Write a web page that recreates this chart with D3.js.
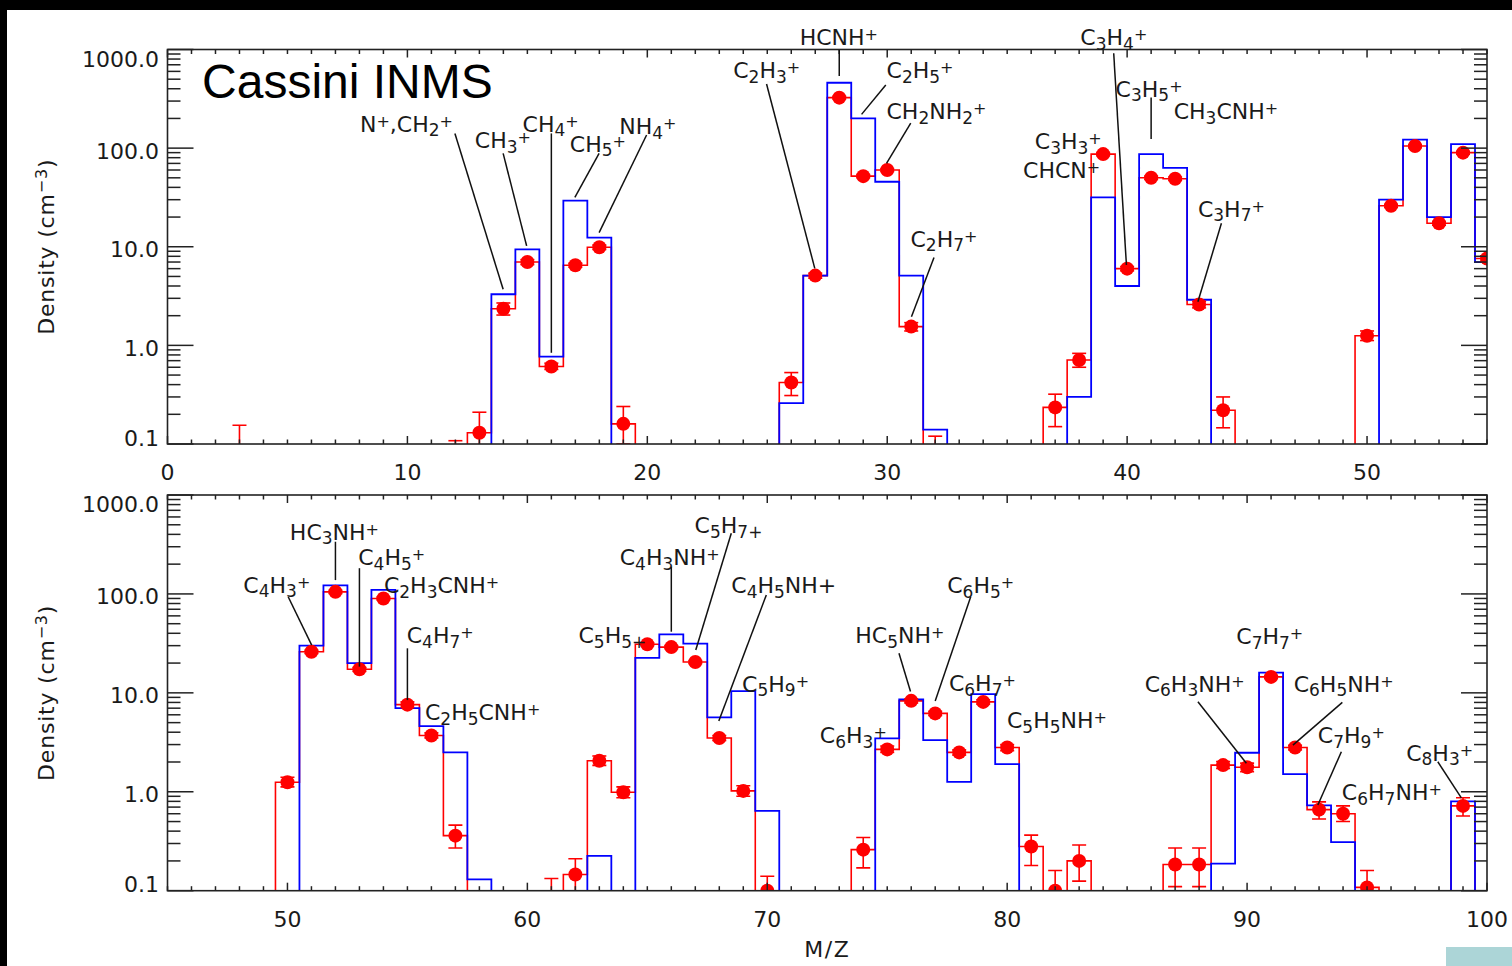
<!DOCTYPE html>
<html>
<head>
<meta charset="utf-8">
<script src="https://cdn.jsdelivr.net/npm/d3@7"></script>
<style>
  body { margin: 0; background: #fff; }
  svg { display: block; }
  .lbl { font-family: "DejaVu Sans", sans-serif; font-size: 22px; fill: #1a1a1a; }
  .frame { fill: none; stroke: #222; stroke-width: 1.6; }
  .tick { stroke: #222; stroke-width: 1.5; }
  .leader { stroke: #111; stroke-width: 1.5; }
</style>
</head>
<body>
<svg id="chart" width="1512" height="966"></svg>
<script>
// measured ion densities (red), one value per M/Z bin
const measMass = [3, 12, 13, 14, 15, 16, 17, 18, 19,
  26, 27, 28, 29, 30, 31, 32,
  37, 38, 39, 40, 41, 42, 43, 44,
  50, 51, 52, 53, 54, 55, 56, 57,
  61, 62, 63, 64, 65, 66, 67, 68, 69, 70,
  74, 75, 76, 77, 78, 79, 80, 81, 82, 83,
  87, 88, 89, 90, 91, 92, 93, 94, 95,
  99];
const measDensity = [0.03, 0.05, 0.13, 2.35, 7.0, 0.61, 6.5, 9.9, 0.16,
  0.42, 5.1, 325, 52, 60, 1.55, 0.06,
  0.235, 0.71, 87, 6.0, 50, 49, 2.6, 0.22,
  1.25, 26, 105, 17.3, 90, 7.6, 3.7, 0.36,
  0.05, 0.146, 2.06, 0.99, 31, 29, 20.5, 3.5, 1.02, 0.1,
  0.26, 2.68, 8.3, 6.2, 2.5, 8.1, 2.8, 0.28, 0.1, 0.2,
  0.184, 0.184, 1.86, 1.77, 14.5, 2.8, 0.66, 0.6, 0.108,
  0.72];
const errLow = [null, null, 0.07, 2.03, 6.6, 0.57, 6.2, 9.4, 0.10,
  0.31, 4.8, 315, 50, 58, 1.4, null,
  0.15, 0.6, 84, 5.7, 48, 47, 2.4, 0.146,
  1.12, 25, 101, 16.5, 87, 7.1, 3.5, 0.27,
  null, 0.08, 1.85, 0.87, 30, 28, 19.8, 3.3, 0.9, null,
  0.17, 2.5, 7.9, 5.9, 2.35, 7.7, 2.6, 0.18, null, 0.125,
  0.11, 0.11, 1.72, 1.6, 14, 2.65, 0.53, 0.5, null,
  0.57];
const errHigh = [0.155, 0.108, 0.21, 2.69, 7.4, 0.66, 6.8, 10.4, 0.24,
  0.53, 5.4, 335, 54, 62, 1.7, 0.12,
  0.32, 0.83, 90, 6.3, 52, 51, 2.8, 0.30,
  1.4, 27, 109, 18, 93, 8.1, 3.95, 0.46,
  0.133, 0.21, 2.3, 1.12, 32, 30, 21.2, 3.7, 1.15, 0.14,
  0.345, 2.9, 8.7, 6.5, 2.65, 8.5, 3.0, 0.365, 0.16, 0.29,
  0.27, 0.27, 2.02, 1.95, 15, 2.95, 0.79, 0.72, 0.16,
  0.87];

// model densities (blue)
const modelMass = [14, 15, 16, 17, 18,
  26, 27, 28, 29, 30, 31, 32,
  38, 39, 40, 41, 42, 43,
  51, 52, 53, 54, 55, 56, 57, 58,
  63, 65, 66, 67, 68, 69, 70,
  75, 76, 77, 78, 79, 80,
  89, 90, 91, 92, 93, 94,
  99];
const modelDensity = [3.3, 9.4, 0.77, 29.3, 12.4,
  0.26, 5.1, 460, 200, 45.6, 5.1, 0.14,
  0.30, 31.7, 4.0, 87, 63, 2.9,
  30, 122, 20, 110, 7.0, 4.6, 2.5, 0.13,
  0.225, 22.6, 39, 31.4, 5.65, 10.4, 0.64,
  3.47, 8.6, 3.33, 1.26, 9.7, 1.9,
  0.188, 2.48, 16, 1.51, 0.73, 0.31,
  0.8];

const yTickValues = [0.1, 1, 10, 100, 1000];
const yTickLabels = ["0.1", "1.0", "10.0", "100.0", "1000.0"];
const topXTicks = [0, 10, 20, 30, 40, 50];
const bottomXTicks = [50, 60, 70, 80, 90, 100];

// ion labels: text anchor and leader line, both in (M/Z, density)
const topIons = [
  { t: "N^+,CH_2^+", at: [8.02, 147], line: [[11.98, 141], [13.99, 3.70]] },
  { t: "CH_3^+", at: [12.81, 99.5], line: [[13.99, 88.5], [14.97, 10.2]] },
  { t: "CH_4^+", at: [14.8, 147], line: [[16, 141], [16, 0.841]] },
  { t: "CH_5^+", at: [16.77, 91.9], line: [[17.99, 88.5], [16.98, 31.7]] },
  { t: "NH_4^+", at: [18.83, 138], line: [[19.97, 136], [17.99, 13.9]] },
  { t: "HCNH^+", at: [26.35, 1110], line: [[28, 989], [28, 538]] },
  { t: "C_2H_3^+", at: [23.58, 511], line: [[24.97, 447], [26.98, 6.04]] },
  { t: "C_2H_5^+", at: [29.97, 511], line: [[29.94, 437], [28.93, 220]] },
  { t: "CH_2NH_2^+", at: [29.97, 196], line: [[30.98, 179], [29.97, 70.2]] },
  { t: "C_2H_7^+", at: [30.97, 10.0], line: [[31.95, 7.80], [31.01, 1.95]] },
  { t: "C_3H_4^+", at: [38.05, 1110], line: [[39.44, 915], [39.97, 6.52]] },
  { t: "C_3H_5^+", at: [39.52, 332], line: [[41, 327], [41, 124]] },
  { t: "CH_3CNH^+", at: [41.94, 196] },
  { t: "C_3H_3^+", at: [36.15, 97.9] },
  { t: "CHCN^+", at: [35.66, 49.4] },
  { t: "C_3H_7^+", at: [42.95, 20.1], line: [[43.93, 17.3], [42.95, 2.77]] }
];
const bottomIons = [
  { t: "HC_3NH^+", at: [50.10, 351], line: [[52, 337], [52, 138]] },
  { t: "C_4H_5^+", at: [52.95, 196], line: [[53, 182], [53, 18.4]] },
  { t: "C_4H_3^+", at: [48.16, 103], line: [[50.03, 93.7], [51.01, 30.4]] },
  { t: "C_2H_3CNH^+", at: [54.02, 101] },
  { t: "C_4H_7^+", at: [54.97, 31.7], line: [[55, 28.2], [55, 8.45]] },
  { t: "C_2H_5CNH^+", at: [55.73, 5.31] },
  { t: "C_5H_7_+", at: [66.97, 410], line: [[68.50, 410], [67.02, 27.1]] },
  { t: "C_4H_3NH^+", at: [63.85, 196], line: [[66, 188], [66, 41.5]] },
  { t: "C_4H_5NH+", at: [68.50, 101], line: [[69.96, 97.5], [67.98, 5.19]] },
  { t: "C_5H_5_+", at: [62.13, 31.7] },
  { t: "C_5H_9^+", at: [68.95, 10.3] },
  { t: "HC_5NH^+", at: [73.67, 31.7], line: [[75.49, 25.1], [75.97, 10.3]] },
  { t: "C_6H_5^+", at: [77.50, 101], line: [[78.48, 93.7], [77.0, 8.26]] },
  { t: "C_6H_7^+", at: [77.57, 10.4] },
  { t: "C_6H_3^+", at: [72.19, 3.08] },
  { t: "C_5H_5NH^+", at: [79.99, 4.38] },
  { t: "C_7H_7^+", at: [89.55, 30.9] },
  { t: "C_6H_3NH^+", at: [85.73, 10.3], line: [[87.95, 8.13], [89.97, 1.94]] },
  { t: "C_6H_5NH^+", at: [91.94, 10.3], line: [[93.97, 8.02], [91.91, 2.96]] },
  { t: "C_7H_9^+", at: [92.95, 3.08], line: [[93.93, 2.54], [92.95, 0.734]] },
  { t: "C_6H_7NH^+", at: [93.95, 0.824] },
  { t: "C_8H_3^+", at: [96.63, 2.06], line: [[97.95, 2.01], [98.93, 0.869]] }
];

const svg = d3.select("#chart");
svg.append("rect").attr("width", 1512).attr("height", 966).attr("fill", "#fff");
svg.append("rect").attr("width", 1512).attr("height", 10).attr("fill", "#000");
svg.append("rect").attr("width", 7).attr("height", 966).attr("fill", "#000");
svg.append("rect").attr("x", 1446).attr("y", 947).attr("width", 66).attr("height", 19).attr("fill", "#acd5d7");

const measured = new Map(measMass.map((m, i) => [m, measDensity[i]]));
const model = new Map(modelMass.map((m, i) => [m, modelDensity[i]]));
const FLOOR = 1e-3;

// "_" = subscript next char, "^" = superscript next char
function formula(sel, str) {
  const parts = [];
  for (let i = 0; i < str.length; i++) {
    let c = str[i], mode = "n";
    if (c === "_" || c === "^") { mode = c === "_" ? "sub" : "sup"; c = str[++i]; }
    const last = parts[parts.length - 1];
    if (last && last.mode === mode) last.s += c; else parts.push({ s: c, mode });
  }
  let cur = 0;
  parts.forEach(p => {
    const off = p.mode === "sub" ? 4.5 : p.mode === "sup" ? -5 : 0;
    sel.append("tspan")
      .attr("dy", off - cur)
      .attr("font-size", p.mode === "sub" ? "17px" : p.mode === "sup" ? "16px" : null)
      .text(p.s);
    cur = off;
  });
}

function drawPanel(cfg, idx) {
  const left = 167.5, right = 1487;
  const x = d3.scaleLinear().domain(cfg.domain).range([left, right]);
  const y = d3.scaleLog().domain([0.1, 1000]).range([cfg.bottom, cfg.top]);
  const g = svg.append("g");

  const clipId = "clip" + idx;
  svg.append("clipPath").attr("id", clipId).append("rect")
    .attr("x", left).attr("y", cfg.top).attr("width", right - left).attr("height", cfg.bottom - cfg.top);
  const plot = g.append("g").attr("clip-path", `url(#${clipId})`);

  const masses = d3.range(cfg.domain[0] - 1, cfg.domain[1] + 2);
  const steps = src => masses.flatMap(m => {
    const v = Math.max(src.get(m) || 0, FLOOR);
    return [[m - 0.5, v], [m + 0.5, v]];
  });
  const line = d3.line().x(d => x(d[0])).y(d => y(d[1]));

  plot.append("path").datum(steps(measured))
    .attr("d", line).attr("fill", "none").attr("stroke", "#ff0000").attr("stroke-width", 1.6);
  plot.append("path").datum(steps(model))
    .attr("d", line).attr("fill", "none").attr("stroke", "#0000ff").attr("stroke-width", 1.8);

  const pts = measMass.map((m, i) => ({ m, v: measDensity[i], lo: errLow[i], hi: errHigh[i] }))
    .filter(d => d.m >= cfg.domain[0] - 1 && d.m <= cfg.domain[1] + 1);

  const eb = plot.append("g").attr("stroke", "#ff0000").attr("stroke-width", 1.6);
  pts.forEach(d => {
    const cx = x(d.m);
    eb.append("line").attr("x1", cx).attr("x2", cx)
      .attr("y1", y(d.lo || FLOOR)).attr("y2", y(d.hi));
    eb.append("line").attr("x1", cx - 7).attr("x2", cx + 7).attr("y1", y(d.hi)).attr("y2", y(d.hi));
    if (d.lo) eb.append("line").attr("x1", cx - 7).attr("x2", cx + 7).attr("y1", y(d.lo)).attr("y2", y(d.lo));
  });

  plot.append("g").selectAll("circle").data(pts).join("circle")
    .attr("cx", d => x(d.m)).attr("cy", d => y(Math.max(d.v, FLOOR))).attr("r", 7)
    .attr("fill", "#ff0000");

  // frame and ticks
  g.append("rect").attr("class", "frame")
    .attr("x", left).attr("y", cfg.top).attr("width", right - left).attr("height", cfg.bottom - cfg.top);

  const ax = g.append("g");
  y.ticks().forEach(v => {
    const major = Math.abs(Math.log10(v) - Math.round(Math.log10(v))) < 1e-6;
    const len = major ? 26 : 13;
    ax.append("line").attr("class", "tick").attr("x1", left).attr("x2", left + len).attr("y1", y(v)).attr("y2", y(v));
    ax.append("line").attr("class", "tick").attr("x1", right).attr("x2", right - len).attr("y1", y(v)).attr("y2", y(v));
  });
  d3.range(cfg.domain[0], cfg.domain[1] + 1).forEach(m => {
    const len = m % 10 === 0 ? 8 : 4.5;
    ax.append("line").attr("class", "tick").attr("x1", x(m)).attr("x2", x(m)).attr("y1", cfg.bottom).attr("y2", cfg.bottom - len);
    ax.append("line").attr("class", "tick").attr("x1", x(m)).attr("x2", x(m)).attr("y1", cfg.top).attr("y2", cfg.top + len);
  });

  yTickValues.forEach((v, i) => {
    const shift = i === yTickValues.length - 1 ? 17 : i === 0 ? 1.5 : 10.5;
    g.append("text").attr("class", "lbl").attr("text-anchor", "end")
      .attr("x", 159).attr("y", y(v) + shift).text(yTickLabels[i]);
  });
  cfg.xTicks.forEach(v => {
    g.append("text").attr("class", "lbl").attr("text-anchor", "middle")
      .attr("x", x(v)).attr("y", cfg.bottom + 36).text(v);
  });

  const yt = g.append("text").attr("class", "lbl").attr("text-anchor", "middle")
    .attr("letter-spacing", 0.8)
    .attr("transform", `translate(53.5,${(cfg.top + cfg.bottom) / 2}) rotate(-90)`);
  yt.append("tspan").text("Density (cm");
  yt.append("tspan").attr("font-size", "16px").attr("dy", -7).text("\u22123");
  yt.append("tspan").attr("dy", 7).text(")");

  // ion annotations
  cfg.ions.forEach(a => {
    if (a.line) {
      g.append("line").attr("class", "leader")
        .attr("x1", x(a.line[0][0])).attr("y1", y(a.line[0][1]))
        .attr("x2", x(a.line[1][0])).attr("y2", y(a.line[1][1]));
    }
    const t = g.append("text").attr("class", "lbl").attr("x", x(a.at[0])).attr("y", y(a.at[1]));
    formula(t, a.t);
  });

  if (cfg.title) {
    g.append("text").attr("x", x(1.44)).attr("y", y(320))
      .attr("font-family", "Liberation Sans, Arial, sans-serif").attr("font-size", 48)
      .attr("fill", "#000").text("Cassini INMS");
  }
  if (cfg.xTitle) {
    g.append("text").attr("class", "lbl").attr("text-anchor", "middle").attr("letter-spacing", 1.5)
      .attr("font-size", 23).attr("x", (left + right) / 2).attr("y", cfg.bottom + 66).text("M/Z");
  }
}

drawPanel({ domain: [0, 55], top: 49.5, bottom: 444, xTicks: topXTicks, ions: topIons, title: true }, 0);
drawPanel({ domain: [45, 100], top: 495, bottom: 890.7, xTicks: bottomXTicks, ions: bottomIons, xTitle: true }, 1);
</script>
</body>
</html>
